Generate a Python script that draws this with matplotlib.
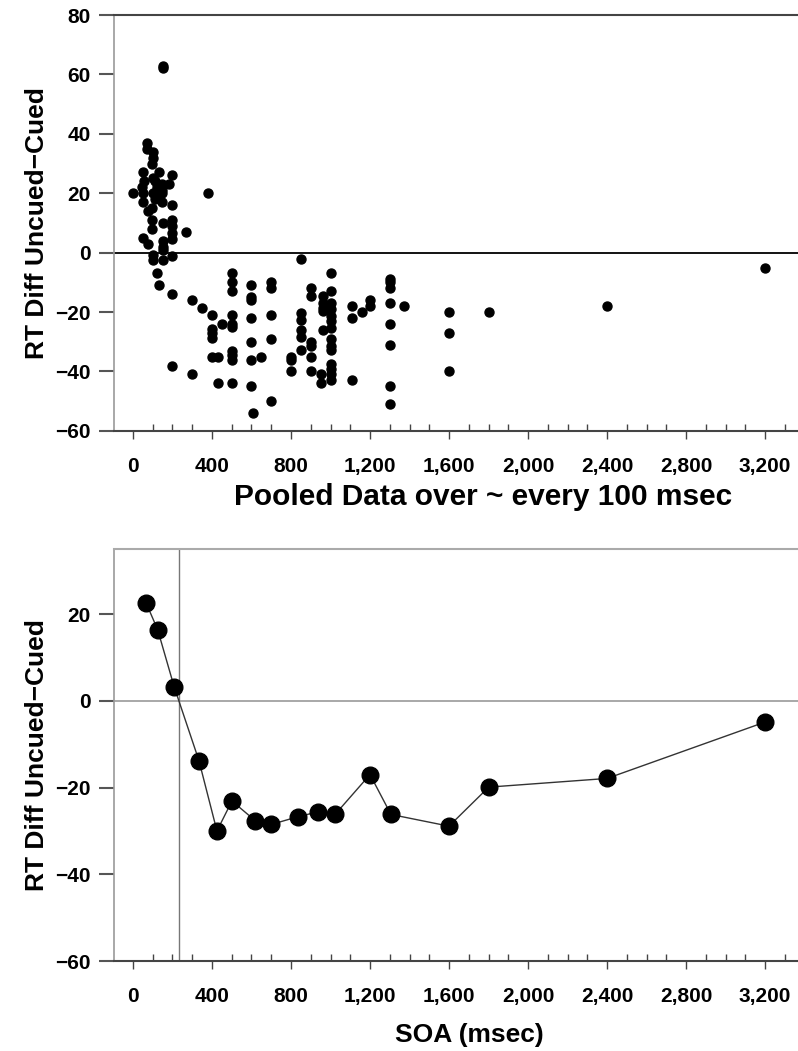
import numpy as np
import matplotlib.pyplot as plt
from matplotlib.ticker import MultipleLocator, FuncFormatter

# individual RT differences (uncued - cued) by SOA
soa_raw = [0, 50, 100, 145, 110, 145, 50, 200, 75, 95, 95, 150, 200, 200, 95,
           200, 200, 270, 50, 75, 150, 150, 150, 100, 100, 150, 200, 120, 130,
           200, 300, 380, 150, 150, 70, 70, 100, 100, 95, 50, 130, 200, 55, 45,
           110, 145, 180, 120, 130, 145, 100, 120,
           350, 400, 450, 400, 400, 400, 400, 430, 200, 300, 430, 500,
           500, 500, 500, 500, 500, 500, 500, 500, 500,
           600, 600, 600, 600, 600, 600, 650, 600, 610,
           700, 700, 700, 700, 700,
           800, 800, 800,
           850, 850, 850, 850, 850, 850,
           900, 900, 900, 900, 900, 900,
           950, 950, 960, 960, 960, 960, 960,
           1000, 1000, 1000, 1000, 1000, 1000, 1000, 1000, 1000, 1000, 1000,
           1000, 1000, 1000,
           1110, 1110, 1160, 1200, 1200, 1110,
           1300, 1300, 1300, 1300, 1370, 1300, 1300, 1300, 1300,
           1600, 1600, 1600, 1800, 2400, 3200]
diff_raw = [20, 20, 20, 20, 18, 17, 17, 16, 14, 15, 11, 10, 11, 9, 8,
            6.5, 4.6, 7, 5, 3, 4, 2, 1, -0.7, -2.6, -2.4, -1, -7, -11,
            -14, -16, 20, 62, 63, 37, 35, 34, 32, 30, 27, 27, 26, 24, 22,
            24, 23, 23, 21, 19, 21, 25, 22,
            -18.5, -21, -24, -25.7, -27, -28.7, -35, -35, -38, -41, -44, -44,
            -7, -10, -13, -21, -24, -25, -33, -34.3, -36,
            -11, -15, -16, -22, -30, -36, -35, -45, -54,
            -10, -12, -21, -29, -50,
            -35, -36, -40,
            -2, -20.3, -22.5, -26, -28.3, -32.6,
            -12, -14.7, -30, -31.5, -35, -40,
            -40.7, -43.8, -14.7, -17, -18.6, -19.7, -25.9,
            -7, -13, -17, -19, -21.4, -23.1, -25.3, -29, -31.5, -32.6, -37.6,
            -39, -40.7, -43,
            -18, -22, -20, -16, -18, -43,
            -9, -10, -12, -17, -18, -24, -31, -45, -51,
            -20, -27, -40, -20, -18, -5]

# pooled over ~100 msec bins
soa_pooled = [66, 125, 208, 334, 425, 501, 618, 700, 837, 937, 1025, 1200,
              1306, 1600, 1801, 2400, 3200]
diff_pooled = [22.6, 16.4, 3.3, -13.8, -30.0, -23.1, -27.6, -28.5, -26.7,
               -25.6, -26.1, -17.0, -26.2, -28.9, -19.9, -17.9, -4.9]

xticks = [0, 400, 800, 1200, 1600, 2000, 2400, 2800, 3200]

font = ['Liberation Sans', 'DejaVu Sans']

fig = plt.figure(figsize=(7.98, 10.51), dpi=100)
ax1 = fig.add_axes([0.1429, 0.590, 0.8571, 0.3957])
ax2 = fig.add_axes([0.1429, 0.0856, 0.8571, 0.3920])


def style(ax, ylim, yticks):
    ax.set_xlim(-96, 3367)
    ax.set_ylim(*ylim)
    ax.set_xticks(xticks)
    ax.xaxis.set_minor_locator(MultipleLocator(100))
    ax.xaxis.set_major_formatter(FuncFormatter(lambda v, p: f'{int(v):,}'))
    ax.set_yticks(yticks)
    ax.tick_params(axis='x', which='major', direction='out', length=6,
                   width=1, color='#444', pad=13)
    ax.tick_params(axis='x', which='minor', direction='in', length=5,
                   width=1, color='#444')
    ax.tick_params(axis='y', direction='out', length=11, width=1.5,
                   color='#555', pad=6)
    for lab in ax.get_xticklabels() + ax.get_yticklabels():
        lab.set_family(font)
        lab.set_fontweight('bold')
        lab.set_fontsize(15)
    ax.spines['right'].set_visible(False)
    ax.spines['left'].set_color('#999')
    ax.spines['left'].set_linewidth(1.2)
    ax.spines['bottom'].set_color('#444')
    ax.spines['bottom'].set_linewidth(1.5)
    ax.set_ylabel('RT Diff Uncued\u2212Cued', family=font, fontweight='bold',
                  fontsize=19, labelpad=4)


# top: all individual points
style(ax1, (-60, 80), [-60, -40, -20, 0, 20, 40, 60, 80])
ax1.spines['top'].set_color('#444')
ax1.spines['top'].set_linewidth(1.5)
ax1.axhline(0, color='black', lw=1.3)
ax1.scatter(soa_raw, diff_raw, s=42, color='black', zorder=3)

# bottom: pooled means
style(ax2, (-60, 35), [-60, -40, -20, 0, 20])
ax2.spines['top'].set_color('#aaa')
ax2.spines['top'].set_linewidth(1.5)
ax2.axhline(0, color='#999', lw=1.2)
# SOA where the pooled curve crosses zero
i = next(k for k in range(len(diff_pooled)) if diff_pooled[k] < 0)
x0 = np.interp(0, [diff_pooled[i], diff_pooled[i - 1]],
               [soa_pooled[i], soa_pooled[i - 1]])
ax2.axvline(x0, color='#777', lw=1)
ax2.plot(soa_pooled, diff_pooled, color='#333', lw=1, marker='o',
         markersize=12, markerfacecolor='black', markeredgecolor='black',
         zorder=3)
ax2.set_xlabel('SOA (msec)', family=font, fontweight='bold', fontsize=19,
               labelpad=12, x=0.52)
ax2.set_title('Pooled Data over ~ every 100 msec', family=font,
              fontweight='bold', fontsize=21.5, pad=32, x=0.54)

fig.savefig('out.png', dpi=100)
